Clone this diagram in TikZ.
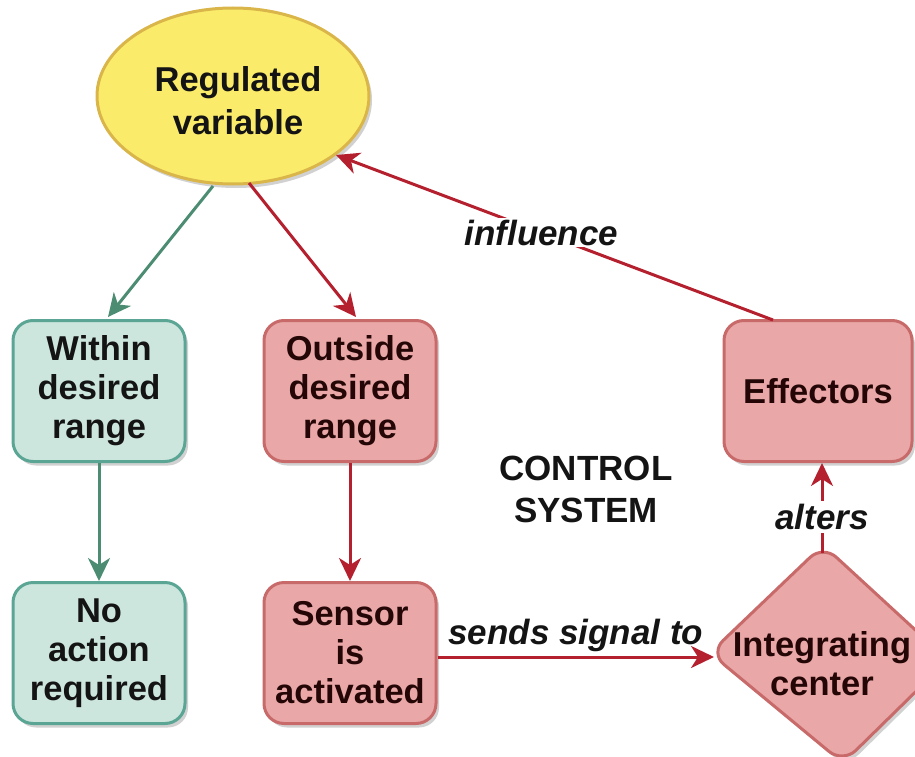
\documentclass[tikz,border=0pt]{standalone}
\usepackage{fontspec}
\setmainfont{Liberation Sans}
\usetikzlibrary{arrows.meta,shapes.geometric,shadows}
\definecolor{gfill}{HTML}{CCE6DE}
\definecolor{gline}{HTML}{5AA594}
\definecolor{garrow}{HTML}{4C8C72}
\definecolor{rfill}{HTML}{E9A7A7}
\definecolor{rline}{HTML}{C96A6A}
\definecolor{rarrow}{HTML}{B5202E}
\definecolor{yfill}{HTML}{FAEC6A}
\definecolor{yline}{HTML}{D9B54A}
\definecolor{gtext}{HTML}{141414}
\definecolor{rtext}{HTML}{240606}
\tikzset{
  shad/.style={drop shadow={shadow xshift=3pt,shadow yshift=-4pt,opacity=0.18,fill=black}},
  bigtext/.style={font=\bfseries\fontsize{34.5}{39}\selectfont},
  gbox/.style={draw=gline,fill=gfill,line width=3pt,rounded corners=20pt,minimum width=172pt,minimum height=141pt,align=center,text=gtext,bigtext,shad},
  rbox/.style={gbox,draw=rline,fill=rfill,text=rtext},
  garr/.style={draw=garrow,line width=3pt,-{Stealth[length=23pt,width=22pt,inset=7pt]}},
  rarr/.style={garr,draw=rarrow},
  lbl/.style={font=\bfseries\itshape\fontsize{35}{40}\selectfont,text=gtext},
}
\begin{document}
\begin{tikzpicture}[x=1pt,y=-1pt]
\useasboundingbox (0,0) rectangle (915,757);
\node[ellipse,draw=yline,fill=yfill,line width=3pt,minimum width=272pt,minimum height=176pt,inner sep=0pt,shad] (rv) at (233,96) {};
\node[align=center,text=gtext,font=\bfseries\fontsize{34.5}{43}\selectfont] (rvt) at (238,101) {Regulated\\variable};
\node[gbox] (within) at (99,391) {Within\\desired\\range};
\node[rbox] (outside) at (350,391) {Outside\\desired\\range};
\node[gbox] (noact) at (99,653) {No\\action\\required};
\node[rbox] (sensor) at (350,653) {Sensor\\is\\activated};
\node[rbox,minimum width=188pt] (eff) at (818,391) {Effectors};
% rounded diamond
\coordinate (icT) at (823,545);
\coordinate (icL) at (710,653);
\coordinate (icB) at (843,763);
\coordinate (icR) at (948,660);
\path[draw=rline,fill=rfill,line width=3pt,rounded corners=18pt,shad] (icT) -- (icR) -- (icB) -- (icL) -- cycle;
\node[align=center,text=rtext,bigtext] (ic) at (822,664) {Integrating\\center};
\node[align=center,text=gtext,font=\bfseries\fontsize{35}{42}\selectfont] (cs) at (586,489) {CONTROL\\SYSTEM};
\coordinate (g1) at (213,186);
\coordinate (g2) at (108,317);
\coordinate (r1) at (249,183);
\coordinate (r2) at (356,317);
\coordinate (e1) at (773,320);
\coordinate (e2) at (336,155);
\coordinate (s2) at (714,657);
\coordinate (a1) at (822,553);
\draw[garr] (g1) -- (g2);
\draw[rarr] (r1) -- (r2);
\draw[garr] (within.south) -- (noact.north);
\draw[rarr] (outside.south) -- (sensor.north);
\draw[rarr] (e1) -- node[lbl,fill=white,pos=0.53,inner sep=2pt] (infl) {influence} (e2);
\draw[rarr] (sensor.east |- s2) -- node[lbl,above=0pt] (sst) {sends signal to} (s2);
\draw[rarr] (a1) -- node[lbl,fill=white,inner sep=3pt,pos=0.4] (alt) {alters} (eff.south -| a1);
\end{tikzpicture}
\end{document}
